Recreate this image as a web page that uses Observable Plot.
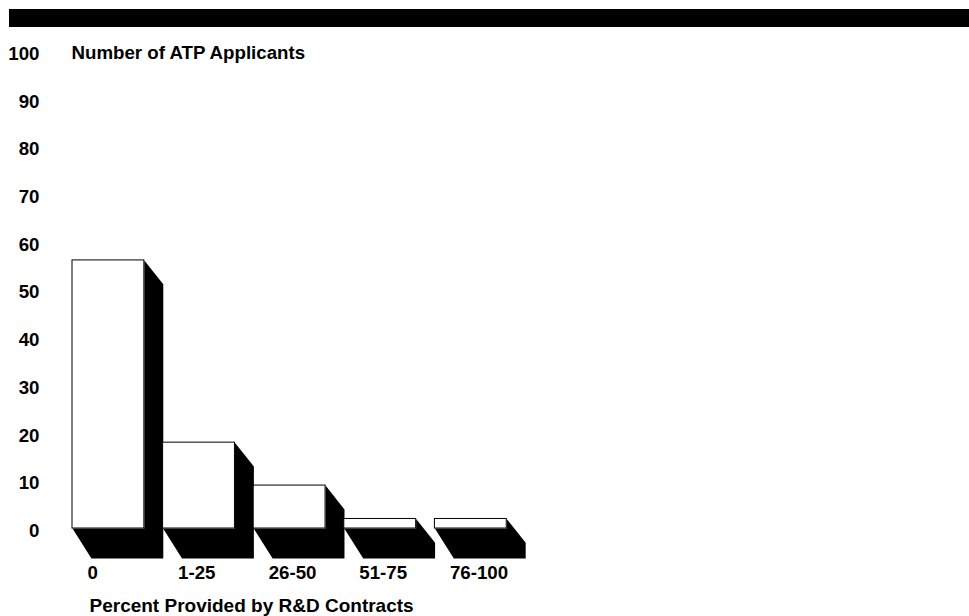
<!DOCTYPE html>
<html>
<head>
<meta charset="utf-8">
<style>
  html, body { margin: 0; padding: 0; background: #fff; }
  #band { position: absolute; left: 9px; right: 0; top: 9px; height: 18px; background: #000; }
  #chart { position: absolute; left: 0; top: 0; }
  #chart svg { display: block; }
</style>
<script src="https://cdn.jsdelivr.net/npm/d3@7"></script>
<script src="https://cdn.jsdelivr.net/npm/@observablehq/plot@0.6"></script>
</head>
<body>
<div id="chart"></div>
<div id="band"></div>
<script>
const categories = ["0", "1-25", "26-50", "51-75", "76-100"];
const applicants = [56.2, 18, 9, 2, 2];
const yTicks = [0, 10, 20, 30, 40, 50, 60, 70, 80, 90, 100];
const yTitle = "Number of ATP Applicants";
const xTitle = "Percent Provided by R&D Contracts";

// 3-D extrusion, in data units
const barWidth = 0.793, depthX = 0.209, sideDrop = 5, floorDrop = 6.3;

const bars = categories.map((c, i) => ({c, i, v: applicants[i]}));
const shadow = bars.flatMap(({i, v}) => {
  const l = i, r = i + barWidth, d = r + depthX;
  return [
    {i, x: l, y: 0}, {i, x: r, y: 0}, {i, x: r, y: v}, {i, x: d, y: v - sideDrop},
    {i, x: d, y: -floorDrop}, {i, x: l + depthX, y: -floorDrop}
  ];
});

const font = "'Liberation Sans', Arial, sans-serif";
const fs = 18.7;
const plot = Plot.plot({
  width: 969, height: 616,
  margin: 0,
  style: {fontFamily: font, fontSize: fs + "px", fontWeight: "bold", color: "#000", background: "transparent"},
  x: {type: "linear", domain: [0, 5], range: [72, 525], axis: null},
  y: {type: "linear", domain: [0, 100], range: [528, 51]},
  marks: [
    Plot.line(shadow, {x: "x", y: "y", z: "i", fill: "#000", stroke: "none"}),
    Plot.rect(bars, {x1: "i", x2: d => d.i + barWidth, y1: 0, y2: "v", fill: "#fff", stroke: "#000", strokeWidth: 1}),
    Plot.axisY({ticks: yTicks, tickSize: 0, tickPadding: 0, anchor: "left", label: null, dx: 39, dy: 2.5,
      textAnchor: "end", fontSize: fs, fontWeight: "bold", fill: "#000"}),
    Plot.text(bars, {x: "i", y: 0, text: "c", dx: 15, dy: 45, textAnchor: "start", fontSize: fs, fontWeight: "bold", fill: "#000"}),
    Plot.text([xTitle], {x: 0, y: 0, text: d => d, dx: 17, dy: 77, textAnchor: "start", fontSize: 19, fontWeight: "bold", fill: "#000"}),
    Plot.text([yTitle], {x: 0, y: 100, text: d => d, dx: -1, dy: 2, textAnchor: "start", fontSize: fs, fontWeight: "bold", fill: "#000"})
  ]
});
document.getElementById("chart").appendChild(plot);
</script>
</body>
</html>
